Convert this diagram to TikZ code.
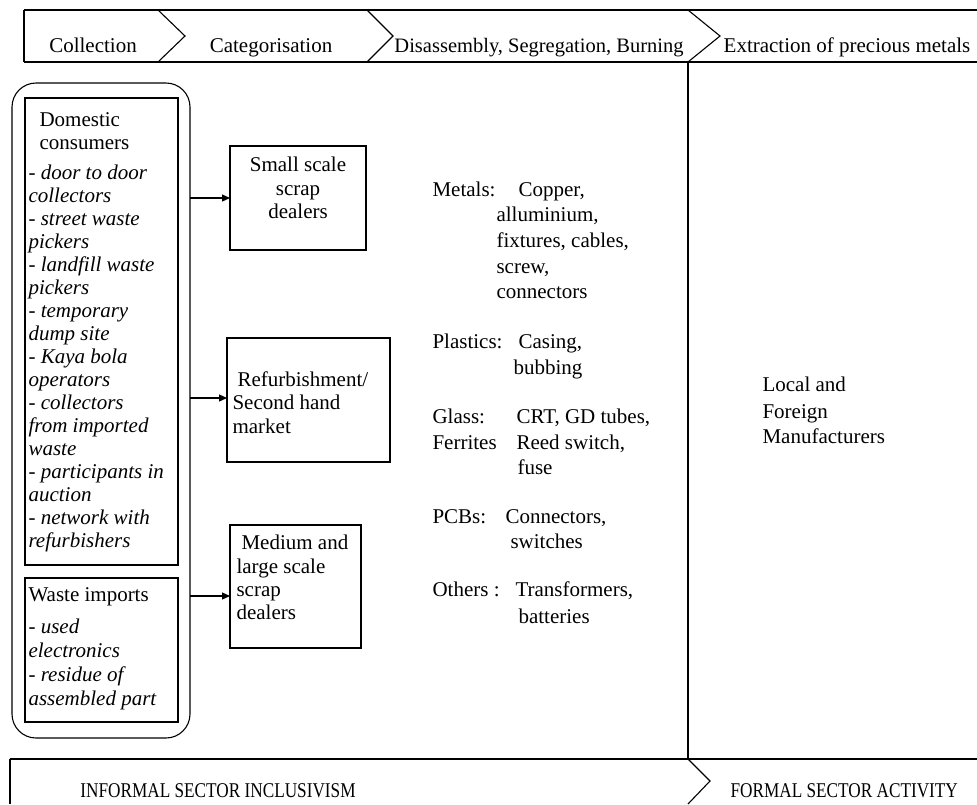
\documentclass[tikz,border=0pt]{standalone}
\usepackage{fontspec}
\setmainfont{Liberation Serif}
\usetikzlibrary{arrows.meta}
\begin{document}
\begin{tikzpicture}[x=1pt,y=-1pt, line width=1.1pt,
  txt/.style={anchor=base west, inner sep=0pt, font=\fontsize{21}{23}\selectfont},
  itx/.style={anchor=base west, inner sep=0pt, font=\fontsize{21}{23}\selectfont\itshape},
  ctr/.style={anchor=base, inner sep=0pt, font=\fontsize{21}{23}\selectfont},
  boxn/.style={draw, anchor=north west, inner sep=0pt, outer sep=0pt},
  arr/.style={-{Triangle[length=8pt,width=7pt]}, line width=1.2pt}]
\useasboundingbox (0,0) rectangle (977,804);

% top process bar
\draw (24,10) -- (977,10);
\draw (24,62) -- (977,62);
\draw (24,10) -- (24,62);
\draw (158,10) -- (185,36) -- (158,62);
\draw (367,10) -- (393,36) -- (367,62);
\draw (688,10) -- (720,36) -- (688,62);
\node[ctr] (t1) at (93,52) {Collection};
\node[ctr] (t2) at (271,52) {Categorisation};
\node[ctr, font=\fontsize{20.5}{23}\selectfont] (t3) at (539,52) {Disassembly, Segregation, Burning};
\node[ctr] (t4) at (847,52) {Extraction of precious metals};

% divider
\draw (688,62) -- (688,759);

% bottom bar
\draw (10,759) -- (977,759);
\draw (10,759) -- (10,804);
\draw (688,759) -- (710,781) -- (688,804);
\node[ctr] (b1) at (218,797) {\scalebox{0.82}[1]{INFORMAL SECTOR INCLUSIVISM}};
\node[txt] (b2) at (730,797) {\scalebox{0.82}[1]{FORMAL SECTOR ACTIVITY}};

% left group
\node[draw, rounded corners=24pt, anchor=north west, inner sep=0pt, outer sep=0pt,
      minimum width=178pt, minimum height=655pt] (grp) at (12,83) {};
\node[boxn, minimum width=153pt, minimum height=467pt] (dom) at (25,98) {};
\node[boxn, minimum width=153pt, minimum height=144pt] (imp) at (25,578) {};

\node[txt] (d1) at (39,126) {Domestic};
\node[txt] (d2) at (39,149) {consumers};
\node[itx] (d3) at (28,179) {- door to door};
\node[itx] (d4) at (28,202) {collectors};
\node[itx] (d5) at (28,225) {- street waste};
\node[itx] (d6) at (28,248) {pickers};
\node[itx] (d7) at (28,271) {- landfill waste};
\node[itx] (d8) at (28,294) {pickers};
\node[itx] (d9) at (28,317) {- temporary};
\node[itx] (d10) at (28,340) {dump site};
\node[itx] (d11) at (28,363) {- Kaya bola};
\node[itx] (d12) at (28,386) {operators};
\node[itx] (d13) at (28,409) {- collectors};
\node[itx] (d14) at (28,432) {from imported};
\node[itx] (d15) at (28,455) {waste};
\node[itx] (d16) at (28,478) {- participants in};
\node[itx] (d17) at (28,501) {auction};
\node[itx] (d18) at (28,524) {- network with};
\node[itx] (d19) at (28,547) {refurbishers};

\node[txt] (w1) at (28,601) {Waste imports};
\node[itx] (w2) at (28,633) {- used};
\node[itx] (w3) at (28,657) {electronics};
\node[itx] (w4) at (28,681) {- residue of};
\node[itx] (w5) at (28,705) {assembled part};

% categorisation boxes
\node[boxn, minimum width=136pt, minimum height=104pt] (small) at (230,146) {};
\node[boxn, minimum width=163pt, minimum height=124pt] (refb) at (227,338) {};
\node[boxn, minimum width=131pt, minimum height=123pt] (med) at (230,525) {};

\node[ctr] (s1t) at (298,171) {Small scale};
\node[ctr] (s2t) at (298,195) {scrap};
\node[ctr] (s3t) at (298,218) {dealers};

\node[txt] (r1) at (237,386) {Refurbishment/};
\node[txt] (r2) at (232,409) {Second hand};
\node[txt] (r3) at (232,433) {market};

\node[txt] (m1) at (241,549) {Medium and};
\node[txt] (m2) at (236,573) {large scale};
\node[txt] (m3) at (236,596) {scrap};
\node[txt] (m4) at (236,619) {dealers};

% arrows
\coordinate (a1) at (190,198);
\coordinate (a2) at (190,398);
\coordinate (a3) at (190,596);
\draw[arr] (a1) -- (a1 -| small.west);
\draw[arr] (a2) -- (a2 -| refb.west);
\draw[arr] (a3) -- (a3 -| med.west);

% materials
\node[txt] (k1) at (432,196) {Metals:};
\node[txt] (v1) at (518,196) {Copper,};
\node[txt] (v1b) at (496,221) {alluminium,};
\node[txt] (v1c) at (496,247) {fixtures, cables,};
\node[txt] (v1d) at (496,273) {screw,};
\node[txt] (v1e) at (496,298) {connectors};

\node[txt] (k2) at (432,348) {Plastics:};
\node[txt] (v2) at (518,348) {Casing,};
\node[txt] (v2b) at (513,374) {bubbing};

\node[txt] (k3) at (432,423) {Glass:};
\node[txt] (v3) at (516,423) {CRT, GD tubes,};
\node[txt] (k4) at (432,449) {Ferrites};
\node[txt] (v4) at (516,449) {Reed switch,};
\node[txt] (v4b) at (517,474) {fuse};

\node[txt] (k5) at (432,523) {PCBs:};
\node[txt] (v5) at (505,523) {Connectors,};
\node[txt] (v5b) at (510,548) {switches};

\node[txt] (k6) at (432,596) {Others :};
\node[txt] (v6) at (515,596) {Transformers,};
\node[txt] (v6b) at (518,623) {batteries};

% manufacturers
\node[txt] (f1) at (762,391) {Local and};
\node[txt] (f2) at (762,418) {Foreign};
\node[txt] (f3) at (762,443) {Manufacturers};
\end{tikzpicture}
\end{document}
